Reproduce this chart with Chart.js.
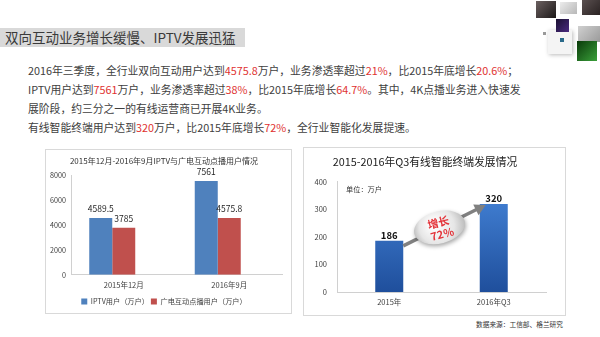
<!DOCTYPE html>
<html>
<head>
<meta charset="utf-8">
<script src="https://cdn.jsdelivr.net/npm/chart.js@4.4.1/dist/chart.umd.min.js"></script>
<style>
  body { margin: 0; width: 600px; height: 337px; overflow: hidden; background: #fff; position: relative;
         font-family: "Noto Sans CJK SC", "Noto Sans", sans-serif; }
  .head { position: absolute; left: 0; top: 28px; width: 245px; height: 19px; background: #d9d9d9; color: #3a3a3a;
          font-size: 13.5px; line-height: 19px; padding-left: 5px; box-sizing: border-box; white-space: nowrap; }
  .txt { position: absolute; left: 28px; top: 61px; font-size: 10.8px; line-height: 19px; color: #404040; white-space: nowrap; }
  .txt b { font-weight: normal; color: #e0312f; }
  .box { position: absolute; border: 1px solid #d9d9d9; background: #fff; }
  canvas { position: absolute; }
  .src { position: absolute; right: 37px; top: 318px; font-size: 6.7px; line-height: 12px; color: #333; }
  .sq { position: absolute; }
</style>
</head>
<body>

<!-- corner decoration -->
<div class="sq" style="left:548px;top:30px;width:24px;height:24px;background:#f4f4f4;box-shadow:1px 1px 4px #bbb"></div>
<div class="sq" style="left:536px;top:1px;width:20px;height:17px;background:linear-gradient(135deg,#6b6060,#1c1818)"></div>
<div class="sq" style="left:560px;top:2px;width:17px;height:12px;background:linear-gradient(135deg,#ececec,#b8b8b8)"></div>
<div class="sq" style="left:582px;top:0;width:18px;height:15px;background:linear-gradient(135deg,#5a5050,#2a2222)"></div>
<div class="sq" style="left:556px;top:19px;width:13px;height:13px;background:linear-gradient(135deg,#1a1030,#4a2a80)"></div>
<div class="sq" style="left:578px;top:26px;width:22px;height:16px;background:linear-gradient(135deg,#d0d0d0,#9a9a9a)"></div>
<div class="sq" style="left:577px;top:41px;width:20px;height:20px;background:linear-gradient(135deg,#0a3a0a,#3aa03a)"></div>
<div class="sq" style="left:543px;top:32px;width:3px;height:3px;background:#999"></div>
<div class="sq" style="left:560px;top:38px;width:4px;height:4px;background:#2a6a8a"></div>

<div class="head">双向互动业务增长缓慢、IPTV发展迅猛</div>

<div class="txt">
  <div>2016年三季度，全行业双向互动用户达到<b>4575.8</b>万户，业务渗透率超过<b>21%</b>，比2015年底增长<b>20.6%</b>；</div>
  <div>IPTV用户达到<b>7561</b>万户，业务渗透率超过<b>38%</b>，比2015年底增长<b>64.7%</b>。其中，4K点播业务进入快速发</div>
  <div>展阶段，约三分之一的有线运营商已开展4K业务。</div>
  <div>有线智能终端用户达到<b>320</b>万户，比2015年底增长<b>72%</b>，全行业智能化发展提速。</div>
</div>

<div class="box" style="left:45px;top:149px;width:245px;height:163px"></div>
<div class="box" style="left:303px;top:147px;width:261px;height:167px"></div>
<canvas id="users" width="244" height="170" style="left:46px;top:150px"></canvas>
<canvas id="smart" width="260" height="166" style="left:304px;top:148px"></canvas>

<div class="src">数据来源：工信部、格兰研究</div>

<script>
// left chart: IPTV vs cable interactive VOD users (10k households)
const periods = ['2015年12月', '2016年9月'];
const iptvUsers = [4589.5, 7561];
const cableUsers = [3785, 4575.8];
const userTicks = [0, 2000, 4000, 6000, 8000];

// right chart: cable smart terminal users (10k households)
const years = ['2015年', '2016年Q3'];
const smartUsers = [186, 320];
const smartTicks = [0, 100, 200, 300, 400];

const FONT = '"Noto Sans CJK SC", "Noto Sans", sans-serif';

const valueLabels = {
  id: 'valueLabels',
  afterDatasetsDraw(chart, args, opts) {
    const ctx = chart.ctx;
    ctx.save();
    ctx.font = opts.font;
    ctx.fillStyle = opts.color;
    ctx.textAlign = 'center';
    ctx.textBaseline = 'bottom';
    chart.data.datasets.forEach((ds, i) => {
      chart.getDatasetMeta(i).data.forEach((bar, j) => {
        if (ds.data[j] == null) return;
        ctx.fillText(String(ds.data[j]), bar.x, bar.y - opts.gap);
      });
    });
    ctx.restore();
  }
};

const growthArrow = {
  id: 'growthArrow',
  afterDatasetsDraw(chart) {
    const ctx = chart.ctx;
    const [b1, b2] = chart.getDatasetMeta(0).data;
    const x1 = b1.x + b1.width / 2, y1 = b1.y + 5;
    const x2 = b2.x - b2.width / 2 + 6, y2 = b2.y + 1;
    const ang = Math.atan2(y2 - y1, x2 - x1);
    ctx.save();
    ctx.strokeStyle = '#808080';
    ctx.fillStyle = '#808080';
    ctx.lineWidth = 3.5;
    ctx.beginPath();
    ctx.moveTo(x1, y1);
    ctx.lineTo(x2 - 8 * Math.cos(ang), y2 - 8 * Math.sin(ang));
    ctx.stroke();
    ctx.beginPath();
    ctx.moveTo(x2, y2);
    ctx.lineTo(x2 - 11 * Math.cos(ang) + 6 * Math.sin(ang), y2 - 11 * Math.sin(ang) - 6 * Math.cos(ang));
    ctx.lineTo(x2 - 11 * Math.cos(ang) - 6 * Math.sin(ang), y2 - 11 * Math.sin(ang) + 6 * Math.cos(ang));
    ctx.closePath();
    ctx.fill();

    // bubble
    ctx.translate((x1 + x2) / 2 - 5, (y1 + y2) / 2 + 2);
    ctx.rotate(-0.25);
    ctx.shadowColor = 'rgba(0,0,0,0.35)';
    ctx.shadowBlur = 4;
    ctx.shadowOffsetX = 1;
    ctx.shadowOffsetY = 2;
    const g = ctx.createRadialGradient(-6, -5, 2, 0, 0, 28);
    g.addColorStop(0, '#ffffff');
    g.addColorStop(0.6, '#e6e6e6');
    g.addColorStop(1, '#b5b5b5');
    ctx.fillStyle = g;
    ctx.beginPath();
    ctx.ellipse(0, 0, 26, 16, 0, 0, Math.PI * 2);
    ctx.fill();
    ctx.shadowColor = 'transparent';
    ctx.fillStyle = '#e3343a';
    ctx.font = 'bold 11px ' + FONT;
    ctx.textAlign = 'center';
    ctx.textBaseline = 'middle';
    const pct = Math.round((smartUsers[1] - smartUsers[0]) / smartUsers[0] * 100);
    ctx.fillText('增长', 0, -5);
    ctx.fillText(pct + '%', 1, 7);
    ctx.restore();

    // unit note
    ctx.save();
    ctx.font = '7.2px ' + FONT;
    ctx.fillStyle = '#333';
    ctx.textBaseline = 'middle';
    ctx.fillText('单位：万户', chart.chartArea.left + 9, chart.chartArea.top + 7);
    ctx.restore();
  }
};

new Chart(document.getElementById('users'), {
  type: 'bar',
  data: {
    labels: periods,
    datasets: [
      { label: 'IPTV用户（万户）', data: iptvUsers, backgroundColor: '#4f81bd' },
      { label: '广电互动点播用户（万户）', data: cableUsers, backgroundColor: '#c0504d' },
      { label: '', data: [null, null], backgroundColor: 'transparent' }
    ]
  },
  options: {
    responsive: false,
    animation: false,
    layout: { padding: { left: 0, right: 8, top: 0, bottom: 5 } },
    datasets: { bar: { categoryPercentage: 0.654, barPercentage: 1 } },
    scales: {
      x: {
        afterFit: s => { s.height = 21; },
        grid: { display: false, drawTicks: false },
        border: { color: '#d0d0d0' },
        ticks: { font: { size: 7.5, family: FONT }, color: '#404040', padding: 6 }
      },
      y: {
        min: 0, max: 8000,
        afterBuildTicks: s => { s.ticks = userTicks.map(v => ({ value: v })); },
        afterFit: s => { s.width = 25; },
        grid: { display: false, drawTicks: false },
        border: { color: '#d0d0d0' },
        ticks: { font: { size: 7.2, family: FONT }, color: '#404040', padding: 5, callback: v => String(v) }
      }
    },
    plugins: {
      title: { display: true, text: '2015年12月-2016年9月IPTV与广电互动点播用户情况',
               font: { size: 8, family: FONT, weight: 'normal' }, color: '#333', padding: { top: 6, bottom: 10 } },
      legend: { position: 'bottom',
                labels: { boxWidth: 6, boxHeight: 6, font: { size: 7.2, family: FONT }, color: '#404040', padding: 2,
                          filter: item => item.datasetIndex < 2 } },
      tooltip: { enabled: false },
      valueLabels: { font: '8.5px ' + FONT, color: '#262626', gap: 5 }
    }
  },
  plugins: [valueLabels]
});

new Chart(document.getElementById('smart'), {
  type: 'bar',
  data: {
    labels: years,
    datasets: [{
      data: smartUsers,
      backgroundColor: c => {
        const a = c.chart.chartArea;
        if (!a) return '#3a72c4';
        const g = c.chart.ctx.createLinearGradient(0, a.bottom, 0, a.top);
        g.addColorStop(0, '#1f4f9c');
        g.addColorStop(1, '#4686da');
        return g;
      }
    }]
  },
  options: {
    responsive: false,
    animation: false,
    layout: { padding: { left: 0, right: 18, top: 0, bottom: 0 } },
    datasets: { bar: { categoryPercentage: 1, barPercentage: 0.268 } },
    scales: {
      x: {
        afterFit: s => { s.height = 22; },
        grid: { display: false, drawTicks: false },
        border: { color: '#d0d0d0' },
        ticks: { font: { size: 7.5, family: FONT }, color: '#404040', padding: 6 }
      },
      y: {
        min: 0, max: 400,
        afterBuildTicks: s => { s.ticks = smartTicks.map(v => ({ value: v })); },
        afterFit: s => { s.width = 33; },
        grid: { display: false, drawTicks: false },
        border: { color: '#d0d0d0' },
        ticks: { font: { size: 7.5, family: FONT }, color: '#404040', padding: 10 }
      }
    },
    plugins: {
      title: { display: true, text: '2015-2016年Q3有线智能终端发展情况',
               font: { size: 10.8, family: FONT, weight: 'normal' }, color: '#222', padding: { top: 7, bottom: 14 } },
      legend: { display: false },
      tooltip: { enabled: false },
      valueLabels: { font: 'bold 9.5px ' + FONT, color: '#111', gap: 1 }
    }
  },
  plugins: [valueLabels, growthArrow]
});
</script>
</body>
</html>
